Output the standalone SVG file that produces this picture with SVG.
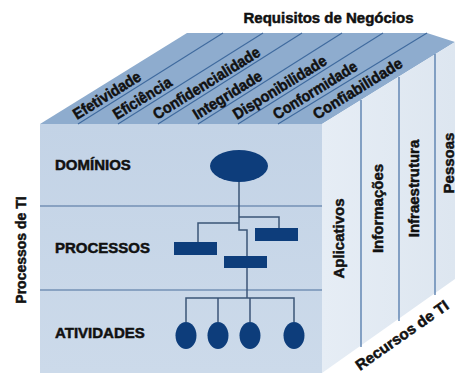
<svg xmlns="http://www.w3.org/2000/svg" width="455" height="374" viewBox="0 0 455 374">
<defs>
<linearGradient id="gFront" x1="0" y1="0" x2="0" y2="1">
<stop offset="0" stop-color="#c3d3e6"/>
<stop offset="1" stop-color="#ccdaea"/>
</linearGradient>
<linearGradient id="gRight" x1="0" y1="0" x2="1" y2="0">
<stop offset="0" stop-color="#e6edf5"/>
<stop offset="1" stop-color="#dde6f0"/>
</linearGradient>
</defs>
<style>
.t{font-family:"Liberation Sans",Arial,sans-serif;font-weight:bold;fill:#111;stroke:#111;stroke-width:0.5;}
.diag{stroke:#3f6a9e;stroke-width:1.1;fill:none;}
.hl{stroke:#4a6f9c;stroke-width:1.2;fill:none;}
.vl{stroke:#4f78aa;stroke-width:1.3;fill:none;}
.conn{stroke:#3b5577;stroke-width:1.5;fill:none;}
.node{fill:#0d3d7b;}
</style>
<rect width="455" height="374" fill="#ffffff"/>
<g id="cube">
<polygon points="40,124 187,33 427,33 455,42 322,124" fill="#8eacce"/>
<rect x="40" y="124" width="282" height="249" fill="url(#gFront)"/>
<polygon points="322,124 455,42 455,279 322,373" fill="url(#gRight)"/>
<line class="diag" x1="78" y1="124" x2="223" y2="33"/>
<line class="diag" x1="118" y1="124" x2="263" y2="33"/>
<line class="diag" x1="158" y1="124" x2="302" y2="33"/>
<line class="diag" x1="198" y1="124" x2="342" y2="33"/>
<line class="diag" x1="238" y1="124" x2="383" y2="33"/>
<line class="diag" x1="278" y1="124" x2="427" y2="33"/>
<line class="hl" x1="40" y1="206" x2="322" y2="206"/>
<line class="hl" x1="40" y1="290" x2="322" y2="290"/>
<line class="vl" x1="361" y1="100" x2="361" y2="347"/>
<line class="vl" x1="399" y1="77" x2="399" y2="321"/>
<line class="vl" x1="435" y1="54" x2="435" y2="295"/>
</g>
<g id="labels">
<text class="t" x="328.5" y="23" font-size="15" text-anchor="middle">Requisitos de Negócios</text>
<text class="t" font-size="14" text-anchor="middle" transform="translate(26,250) rotate(-90)">Processos de TI</text>
<text class="t" x="55" y="170" font-size="15">DOMÍNIOS</text>
<text class="t" x="55" y="253" font-size="15">PROCESSOS</text>
<text class="t" x="55" y="338" font-size="15">ATIVIDADES</text>
<text class="t" font-size="15.5" textLength="77" lengthAdjust="spacingAndGlyphs" transform="translate(77,120) rotate(-31.8)">Efetividade</text>
<text class="t" font-size="15.5" textLength="66" lengthAdjust="spacingAndGlyphs" transform="translate(117,120) rotate(-31.8)">Eficiência</text>
<text class="t" font-size="15.5" textLength="123" lengthAdjust="spacingAndGlyphs" transform="translate(157,120) rotate(-31.8)">Confidencialidade</text>
<text class="t" font-size="15.5" textLength="78" lengthAdjust="spacingAndGlyphs" transform="translate(197,120) rotate(-31.8)">Integridade</text>
<text class="t" font-size="15.5" textLength="107" lengthAdjust="spacingAndGlyphs" transform="translate(237,120) rotate(-31.8)">Disponibilidade</text>
<text class="t" font-size="15.5" textLength="96" lengthAdjust="spacingAndGlyphs" transform="translate(277,120) rotate(-31.8)">Conformidade</text>
<text class="t" font-size="15.5" textLength="102" lengthAdjust="spacingAndGlyphs" transform="translate(317,120) rotate(-31.8)">Confiabilidade</text>
<text class="t" font-size="15" text-anchor="middle" transform="translate(344,238.5) rotate(-90)">Aplicativos</text>
<text class="t" font-size="15" text-anchor="middle" transform="translate(383,208.5) rotate(-90)">Informações</text>
<text class="t" font-size="15" text-anchor="middle" transform="translate(419,188.5) rotate(-90)">Infraestrutura</text>
<text class="t" font-size="15" text-anchor="middle" transform="translate(454,163) rotate(-90)">Pessoas</text>
<text class="t" font-size="15" textLength="110" lengthAdjust="spacingAndGlyphs" transform="translate(360,371) rotate(-35)">Recursos de TI</text>
</g>
<g id="connectors">
<polyline class="conn" points="239,182 239,230 247,230 247,256"/>
<polyline class="conn" points="239,217 279,217 279,228"/>
<polyline class="conn" points="239,223 198,223 198,242"/>
<line class="conn" x1="247" y1="268" x2="247" y2="298"/>
<polyline class="conn" points="186,322 186,298 294,298 294,322"/>
<line class="conn" x1="218" y1="298" x2="218" y2="322"/>
<line class="conn" x1="250" y1="298" x2="250" y2="322"/>
</g>
<g id="dominio"><ellipse class="node" cx="239" cy="166" rx="29" ry="16"/></g>
<g id="processo1"><rect class="node" x="174" y="242" width="43" height="13"/></g>
<g id="processo2"><rect class="node" x="224" y="256" width="43" height="12"/></g>
<g id="processo3"><rect class="node" x="255" y="228" width="43" height="13"/></g>
<g id="atividade1"><ellipse class="node" cx="186" cy="335.5" rx="10.5" ry="13.5"/></g>
<g id="atividade2"><ellipse class="node" cx="218" cy="335.5" rx="10.5" ry="13.5"/></g>
<g id="atividade3"><ellipse class="node" cx="250" cy="335.5" rx="10.5" ry="13.5"/></g>
<g id="atividade4"><ellipse class="node" cx="294" cy="335.5" rx="10.5" ry="13.5"/></g>
</svg>
